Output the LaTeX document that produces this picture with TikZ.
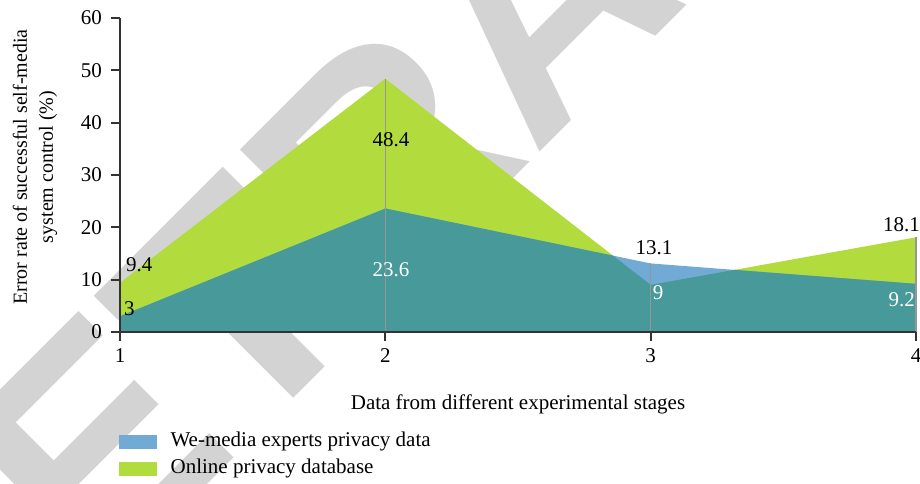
\documentclass[tikz,border=0pt]{standalone}
\usepackage{fontspec}
\setmainfont{Liberation Serif}
\newfontfamily\wmfont{Liberation Sans}
\usetikzlibrary{positioning}
\definecolor{onlinegreen}{RGB}{178,219,62}
\definecolor{expertblue}{RGB}{114,170,214}
\definecolor{overlapteal}{RGB}{71,153,154}
\definecolor{wmgray}{RGB}{211,211,211}
\definecolor{axisgray}{RGB}{51,51,51}
\definecolor{dropgray}{RGB}{150,150,150}

\begin{document}
\begin{tikzpicture}[x=1pt,y=1pt,
  every node/.style={font=\fontsize{21}{24}\selectfont, inner sep=0pt},
  axis/.style={draw=axisgray, line width=1.8pt},
  drop/.style={draw=dropgray, line width=1.6pt},
  keybox/.style={minimum width=38pt, minimum height=14pt}]
  \useasboundingbox (0,0) rectangle (920,484);
  \clip (0,0) rectangle (920,484);
  \node[anchor=base west, rotate=45, text=wmgray,
    font=\wmfont\bfseries\fontsize{310}{310}\selectfont] (wm) at (-62,-270) {RETRACTED};
  \begin{scope}[shift={(120,152)}, x=265.33pt, y=5.233pt]
    \fill[onlinegreen] (0,0) -- (0,9.4) -- (1,48.4) -- (2,9) -- (3,18.1) -- (3,0) -- cycle;
    \fill[expertblue] (0,0) -- (0,3) -- (1,23.6) -- (2,13.1) -- (3,9.2) -- (3,0) -- cycle;
    \begin{scope}
      \clip (0,0) -- (0,9.4) -- (1,48.4) -- (2,9) -- (3,18.1) -- (3,0) -- cycle;
      \fill[overlapteal] (0,0) -- (0,3) -- (1,23.6) -- (2,13.1) -- (3,9.2) -- (3,0) -- cycle;
    \end{scope}
    \draw[drop] (1,0) -- (1,48.4) (2,0) -- (2,13.1) (3,0) -- (3,18.1);
    \draw[axis] (0,60) -- (0,0) -- (3,0);
    \foreach \v in {0,10,...,60} {
      \draw[axis] (0,\v) -- ++(-9pt,0);
      \node[anchor=east] (ytick\v) at ([xshift=-18pt]0,\v) {\v};
    }
    \foreach \c in {1,...,4} {
      \draw[axis] (\c-1,0) -- ++(0,-9pt);
      \node[anchor=base] (xtick\c) at ([yshift=-31pt]\c-1,0) {\c};
    }
  \end{scope}
  \node[anchor=west] (onlineA) at (126,219) {9.4};
  \node[anchor=west] (expertA) at (124,175) {3};
  \node (onlineB) at (391,344) {48.4};
  \node[text=white] (expertB) at (391,214) {23.6};
  \node (expertC) at (654,236) {13.1};
  \node[text=white] (onlineC) at (658,191) {9};
  \node[anchor=east] (onlineD) at (920,259) {18.1};
  \node[anchor=east, text=white] (expertD) at (915,184) {9.2};
  \node[rotate=90, align=center, font=\fontsize{20}{26}\selectfont] (ylabel) at (35,317)
    {Error rate of successful self-media\\system control (\%)};
  \node (xlabel) at (518,80) {Data from different experimental stages};
  \node[keybox, fill=expertblue, anchor=south west] (keyexpert) at (119,35) {};
  \node[keybox, fill=onlinegreen, anchor=south west] (keyonline) at (119,8) {};
  \node[right=13pt of keyexpert] (keyexperttext) {We-media experts privacy data};
  \node[right=13pt of keyonline] (keyonlinetext) {Online privacy database};
\end{tikzpicture}
\end{document}
